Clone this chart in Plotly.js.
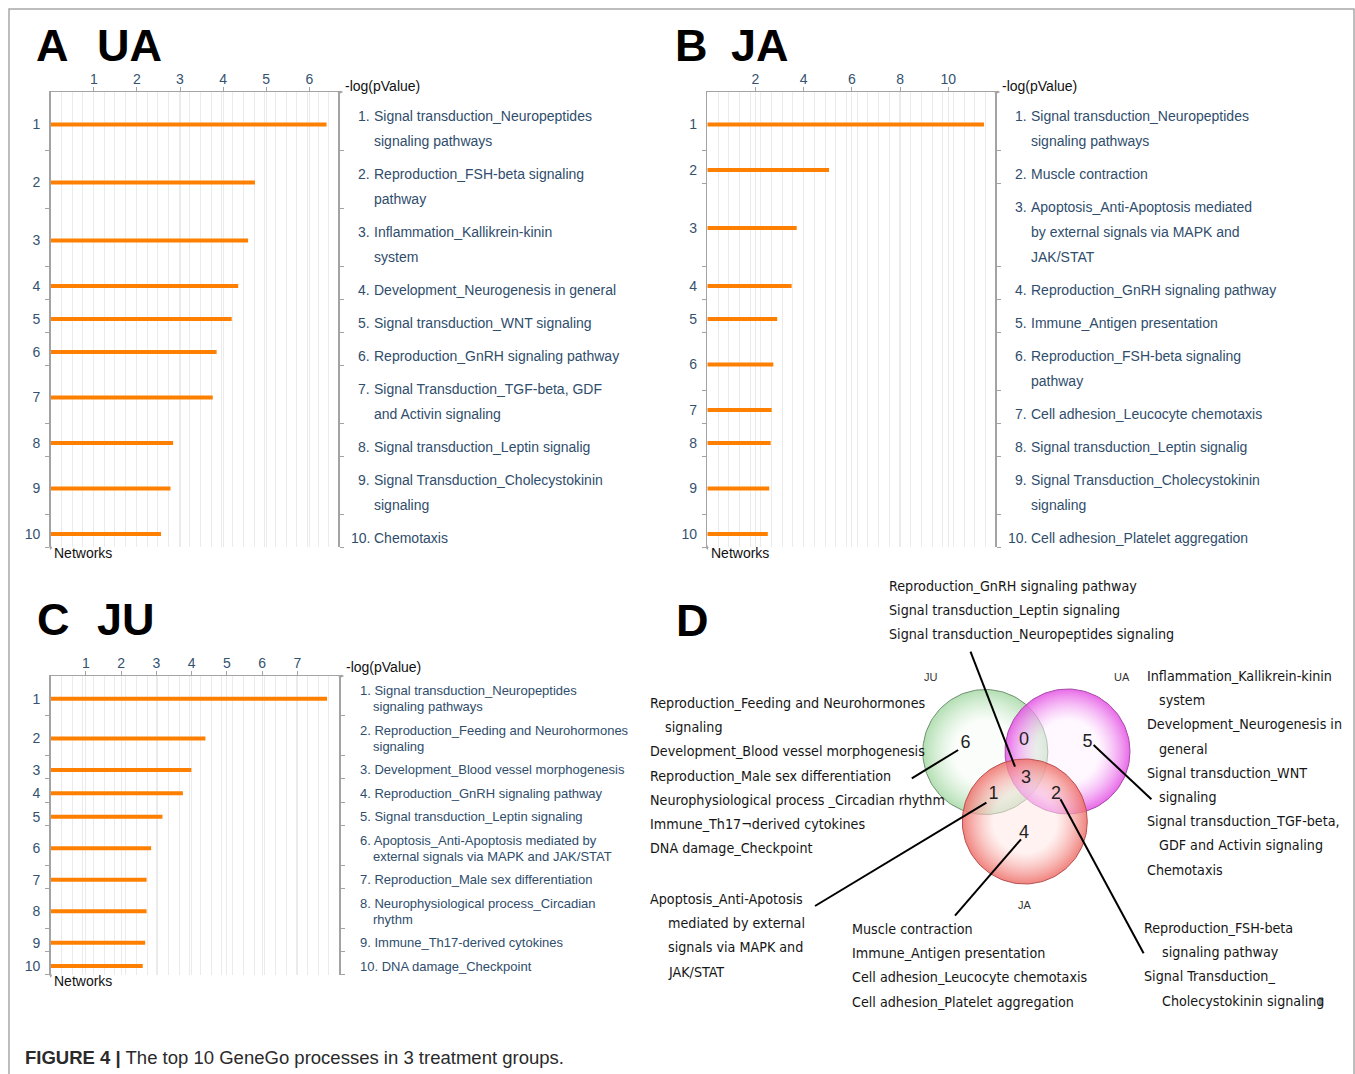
<!DOCTYPE html>
<html><head><meta charset="utf-8">
<script src="https://cdn.plot.ly/plotly-3.0.1.min.js"></script>
<style>html,body{margin:0;padding:0;background:#fff}#chart{width:1355px;height:1074px}</style>
</head><body><div id="chart"></div>
<script>
// ================= DATA =================
const rankLabels = ["1","2","3","4","5","6","7","8","9","10"];

// Panel A – UA
const valuesUA = [6.40, 4.74, 4.58, 4.35, 4.20, 3.85, 3.76, 2.84, 2.78, 2.56];
const processesUA = [
  "Signal transduction_Neuropeptides|signaling pathways",
  "Reproduction_FSH-beta signaling|pathway",
  "Inflammation_Kallikrein-kinin|system",
  "Development_Neurogenesis in general",
  "Signal transduction_WNT signaling",
  "Reproduction_GnRH signaling pathway",
  "Signal Transduction_TGF-beta, GDF|and Activin signaling",
  "Signal transduction_Leptin signalig",
  "Signal Transduction_Cholecystokinin|signaling",
  "Chemotaxis"
];
const xTicksUA = [1, 2, 3, 4, 5, 6];

// Panel B – JA
const valuesJA = [11.48, 5.05, 3.71, 3.50, 2.90, 2.74, 2.67, 2.63, 2.57, 2.51];
const processesJA = [
  "Signal transduction_Neuropeptides|signaling pathways",
  "Muscle contraction",
  "Apoptosis_Anti-Apoptosis mediated|by external signals via MAPK and|JAK/STAT",
  "Reproduction_GnRH signaling pathway",
  "Immune_Antigen presentation",
  "Reproduction_FSH-beta signaling|pathway",
  "Cell adhesion_Leucocyte chemotaxis",
  "Signal transduction_Leptin signalig",
  "Signal Transduction_Cholecystokinin|signaling",
  "Cell adhesion_Platelet aggregation"
];
const xTicksJA = [2, 4, 6, 8, 10];

// Panel C – JU
const valuesJU = [7.84, 4.39, 3.99, 3.75, 3.17, 2.85, 2.72, 2.72, 2.68, 2.61];
const processesJU = [
  "Signal transduction_Neuropeptides|signaling pathways",
  "Reproduction_Feeding and Neurohormones|signaling",
  "Development_Blood vessel morphogenesis",
  "Reproduction_GnRH signaling pathway",
  "Signal transduction_Leptin signaling",
  "Apoptosis_Anti-Apoptosis mediated by|external signals via MAPK and JAK/STAT",
  "Reproduction_Male sex differentiation",
  "Neurophysiological process_Circadian|rhythm",
  "Immune_Th17-derived cytokines",
  "DNA damage_Checkpoint"
];
const xTicksJU = [1, 2, 3, 4, 5, 6, 7];

// Panel D – Venn
const vennSets = ["JU", "UA", "JA"];
const vennRegions = ["JU only", "JU∩UA", "UA only", "JU∩UA∩JA", "JU∩JA", "UA∩JA", "JA only"];
const vennCounts = [6, 0, 5, 3, 1, 2, 4];
const vennShared3 = ["Reproduction_GnRH signaling pathway", "Signal transduction_Leptin signaling", "Signal transduction_Neuropeptides signaling"];
const vennOnlyJU = ["Reproduction_Feeding and Neurohormones|signaling", "Development_Blood vessel morphogenesis", "Reproduction_Male sex differentiation", "Neurophysiological process _Circadian rhythm", "Immune_Th17¬derived cytokines", "DNA damage_Checkpoint"];
const vennJUJA = ["Apoptosis_Anti-Apotosis|mediated by external|signals via MAPK and|JAK/STAT"];
const vennOnlyJA = ["Muscle contraction", "Immune_Antigen presentation", "Cell adhesion_Leucocyte chemotaxis", "Cell adhesion_Platelet aggregation"];
const vennOnlyUA = ["Inflammation_Kallikrein-kinin|system", "Development_Neurogenesis in|general", "Signal transduction_WNT|signaling", "Signal transduction_TGF-beta,|GDF and Activin signaling", "Chemotaxis"];
const vennUAJA = ["Reproduction_FSH-beta|signaling pathway", "Signal Transduction_|Cholecystokinin signaling"];

const captionBold = "FIGURE 4 |";
const captionText = " The top 10 GeneGo processes in 3 treatment groups.";

// ================= LAYOUT / STYLE =================
const W = 1355, H = 1074;
const FONT = '"Liberation Sans", Arial, Helvetica, sans-serif';
const TXT = '#2f4d6c', TICKC = '#34526f', AXC = '#a3a3a3', GRID = '#ebebeb', ORANGE = '#ff8000';

const cv = document.createElement('canvas').getContext('2d');
function measure(font, t) { cv.font = font; return cv.measureText(t).width; }
function hasFont(f) {
  const s = 'Reproduction_GnRH wmliWMLI';
  return measure('40px monospace', s) !== measure('40px "' + f + '", monospace', s);
}
const COND = hasFont('Liberation Sans Narrow') ? '"Liberation Sans Narrow"' :
             (hasFont('DejaVu Sans Condensed') ? '"DejaVu Sans Condensed"' : '"Liberation Sans"');
const dSize = 40 * 248 / measure('40px ' + COND, 'Reproduction_GnRH signaling pathway');
const capSize = 40 * 540 / (measure('bold 40px ' + FONT, captionBold) + measure('40px ' + FONT, captionText));

const px = x => x / W, py = y => 1 - y / H;

function rowLayout(labels, lineH, pad, barOff) {
  let y = 0; const bars = [], bounds = [];
  labels.forEach(l => {
    const n = l.split('|').length, h = pad + n * lineH;
    bars.push(y + h / 2 + barOff); y += h; bounds.push(y);
  });
  return { bars, bounds, total: y };
}

const panels = [
  { values: valuesUA, labels: processesUA, ticks: xTicksUA, left: 50.7, right: 338, top: 92, ppu: 43.1,
    lineH: 25, pad: 8, barOff: 3.5, textOff: 4, fs: 14, inline: false, title: ['A', 'UA'], titleX: [36, 97], titleY: 45, logY: 86 },
  { values: valuesJA, labels: processesJA, ticks: xTicksJA, left: 707.3, right: 995, top: 92, ppu: 24.1,
    lineH: 25, pad: 8, barOff: 3.5, textOff: 4, fs: 14, inline: false, title: ['B', 'JA'], titleX: [675, 731], titleY: 45, logY: 86 },
  { values: valuesJU, labels: processesJU, ticks: xTicksJU, left: 50.7, right: 339, top: 676, ppu: 35.25,
    lineH: 16.2, pad: 7.2, barOff: 3, textOff: 0, fs: 13, inline: true, title: ['C', 'JU'], titleX: [37, 97], titleY: 619, logY: 667 }
];

const traces = [], annotations = [], shapes = [];
const layout = {
  width: W, height: H, margin: { l: 0, r: 0, t: 0, b: 0 },
  paper_bgcolor: '#fff', plot_bgcolor: 'rgba(0,0,0,0)', showlegend: false,
  font: { family: FONT, size: 14, color: '#000' }
};

function ann(text, x, y, xref, yref, size, color, xanchor, family) {
  return { text, x, y, xref, yref, xanchor: xanchor || 'left', yanchor: 'middle', showarrow: false,
    font: { family: family || FONT, size, color } };
}

panels.forEach((p, k) => {
  const sfx = k ? String(k + 1) : '';
  const xa = 'x' + sfx, ya = 'y' + sfx;
  const rows = rowLayout(p.labels, p.lineH, p.pad, p.barOff);
  const bottom = p.top + rows.total;
  const xmax = (p.right - p.left) / p.ppu;

  layout['xaxis' + sfx] = {
    domain: [px(p.left), px(p.right)], anchor: ya, side: 'top', range: [0, xmax],
    tickmode: 'array', tickvals: p.ticks, ticks: 'outside', ticklen: 4, tickcolor: AXC, tickwidth: 1,
    showline: true, linecolor: AXC, linewidth: 1.5, zeroline: false,
    showgrid: true, gridcolor: GRID, gridwidth: 1,
    minor: { tick0: 0, dtick: 10.7 / p.ppu, showgrid: true, gridcolor: GRID, gridwidth: 1, ticks: '' },
    tickfont: { family: FONT, size: 14, color: TICKC }, ticklabelstandoff: -3, fixedrange: true
  };
  layout['yaxis' + sfx] = {
    domain: [py(bottom), py(p.top)], anchor: xa, range: [rows.total, 0],
    tickmode: 'array', tickvals: rows.bars, ticktext: rankLabels, ticks: '',
    showline: true, linecolor: AXC, linewidth: 1.5, mirror: 'allticks', zeroline: false, showgrid: false,
    minor: { tickmode: 'array', tickvals: rows.bounds, ticks: 'outside', ticklen: 4, tickcolor: AXC, tickwidth: 1, showgrid: false },
    tickfont: { family: FONT, size: 14, color: TICKC }, ticklabelstandoff: 6, fixedrange: true
  };

  traces.push({
    type: 'bar', orientation: 'h', x: p.values, y: rows.bars, width: 4,
    marker: { color: ORANGE, line: { width: 0 } }, xaxis: xa, yaxis: ya, hoverinfo: 'x'
  });

  // right-hand list of processes
  p.labels.forEach((lab, i) => {
    const lines = lab.split('|'), n = lines.length;
    lines.forEach((ln, j) => {
      const yy = rows.bars[i] + p.textOff + (j - (n - 1) / 2) * p.lineH;
      if (p.inline) {
        const t = j === 0 ? (rankLabels[i] + '. ' + ln) : ln;
        annotations.push(ann(t, px(p.right + (j === 0 ? 18.5 : 31.5)), yy, 'paper', ya, p.fs, TXT));
      } else {
        if (j === 0) annotations.push(ann(rankLabels[i] + '.', px(p.right + 33.5), yy, 'paper', ya, p.fs, TXT, 'right'));
        annotations.push(ann(ln, px(p.right + 33.7), yy, 'paper', ya, p.fs, TXT));
      }
    });
  });

  // axis titles
  annotations.push(ann('-log(pValue)', px(p.right + 5), py(p.logY), 'paper', 'paper', 14, '#111'));
  annotations.push(ann('Networks', px(p.left + 1.5), py(bottom + 6), 'paper', 'paper', 14, '#111'));
  // axis arrowheads
  annotations.push({ x: px(p.right + 5), y: py(p.top), xref: 'paper', yref: 'paper', ax: -7, ay: 0, text: '',
    showarrow: true, arrowhead: 2, arrowsize: 0.6, arrowwidth: 1, arrowcolor: AXC });
  annotations.push({ x: px(p.left), y: py(bottom + 3), xref: 'paper', yref: 'paper', ax: 0, ay: -6, text: '',
    showarrow: true, arrowhead: 2, arrowsize: 0.6, arrowwidth: 1, arrowcolor: AXC });
  // panel titles
  p.title.forEach((t, j) => annotations.push(ann('<b>' + t + '</b>', px(p.titleX[j] - 2), py(p.titleY), 'paper', 'paper', 45, '#000')));
});

// ---------- Panel D (Venn) ----------
const D = { x0: 640, x1: W, y0: 570, y1: H };
layout.xaxis4 = { domain: [px(D.x0), 1], range: [D.x0, D.x1], visible: false, fixedrange: true, anchor: 'y4' };
layout.yaxis4 = { domain: [0, py(D.y0)], range: [D.y1, D.y0], visible: false, fixedrange: true, anchor: 'x4' };

const circleStyle = {
  JU: { cx: 985.3, cy: 752, r: 62.5, inner: 'rgba(246,252,246,0.55)', outer: 'rgba(160,215,160,0.8)', line: '#6f8f6f' },
  UA: { cx: 1067.5, cy: 751.5, r: 62.5, inner: 'rgba(255,240,255,0.5)', outer: 'rgba(228,80,228,0.85)', line: '#a848a8' },
  JA: { cx: 1024.8, cy: 821.5, r: 62.5, inner: 'rgba(255,232,230,0.55)', outer: 'rgba(238,110,104,0.85)', line: '#b85050' }
};
vennSets.forEach(s => {
  const c = circleStyle[s], xs = [], ys = [];
  for (let i = 0; i <= 144; i++) { const t = 2 * Math.PI * i / 144; xs.push(c.cx + c.r * Math.cos(t)); ys.push(c.cy + c.r * Math.sin(t)); }
  traces.push({ type: 'scatter', mode: 'lines', x: xs, y: ys, xaxis: 'x4', yaxis: 'y4', fill: 'toself',
    fillgradient: { type: 'radial', colorscale: [[0, c.inner], [0.5, c.inner], [1, c.outer]] },
    line: { color: c.line, width: 1 }, hoverinfo: 'skip' });
});
const setLabelPos = { JU: [931, 677], UA: [1122, 677], JA: [1025, 905] };
vennSets.forEach(s => annotations.push(ann(s, setLabelPos[s][0], setLabelPos[s][1], 'x4', 'y4', 11, '#333', 'center')));

// count positions (one per region, same order as vennRegions)
const countPos = [[965.5, 743], [1024, 740.5], [1087.5, 742.5], [1026, 778], [993.5, 794.5], [1056, 794], [1024, 833]];
// leader lines: [from region label, to text block]
const leaders = [[[958.2, 750], [911.8, 778.3]], null, [[1093.6, 745], [1151.4, 799.3]], [[1015, 766.7], [970.5, 651.7]],
                 [[986.4, 802.7], [815, 906]], [[1060.5, 799.3], [1143.6, 953.3]], [[1021, 839.3], [955, 915.7]]];
leaders.forEach(l => { if (l) shapes.push({ type: 'line', xref: 'x4', yref: 'y4', x0: l[0][0], y0: l[0][1], x1: l[1][0], y1: l[1][1], line: { color: '#000', width: 2 } }); });

traces.push({ type: 'scatter', mode: 'text', x: countPos.map(p => p[0]), y: countPos.map(p => p[1]),
  text: vennCounts.map(String), textfont: { family: FONT, size: 18, color: '#222' }, xaxis: 'x4', yaxis: 'y4',
  textposition: 'middle center', hovertext: vennRegions, hoverinfo: 'text' });

const blocks = [
  { items: vennShared3, x: 889, y: 586, indent: 0 },
  { items: vennOnlyJU, x: 650, y: 703, indent: 15 },
  { items: vennJUJA, x: 650, y: 899, indent: 18 },
  { items: vennOnlyJA, x: 852, y: 929, indent: 0 },
  { items: vennOnlyUA, x: 1147, y: 676, indent: 12 },
  { items: vennUAJA, x: 1144, y: 928, indent: 18 }
];
const dStep = 24.2;
blocks.forEach(b => {
  let line = 0;
  b.items.forEach(it => it.split('|').forEach((t, j) => {
    annotations.push(ann(t, b.x - 2 + (j ? b.indent : 0), b.y + line * dStep, 'x4', 'y4', dSize, '#151515', 'left', COND));
    line++;
  }));
});
shapes.push({ type: 'rect', xref: 'x4', yref: 'y4', x0: 1319, x1: 1323, y0: 997, y1: 1006, fillcolor: '#9a9a9a', line: { width: 0 } });
annotations.push(ann('<b>D</b>', 674, 620, 'x4', 'y4', 45, '#000'));

// caption and frame
annotations.push(ann('<b>' + captionBold + '</b>' + captionText, px(23), py(1057), 'paper', 'paper', capSize, '#2a2a2a'));
shapes.push({ type: 'rect', xref: 'paper', yref: 'paper', x0: px(9), x1: px(1354), y0: -0.02, y1: py(9), line: { color: '#a8a8a8', width: 1.5 }, layer: 'below' });

layout.annotations = annotations;
layout.shapes = shapes;

Plotly.newPlot('chart', traces, layout, { displayModeBar: false, staticPlot: true });
</script></body></html>
